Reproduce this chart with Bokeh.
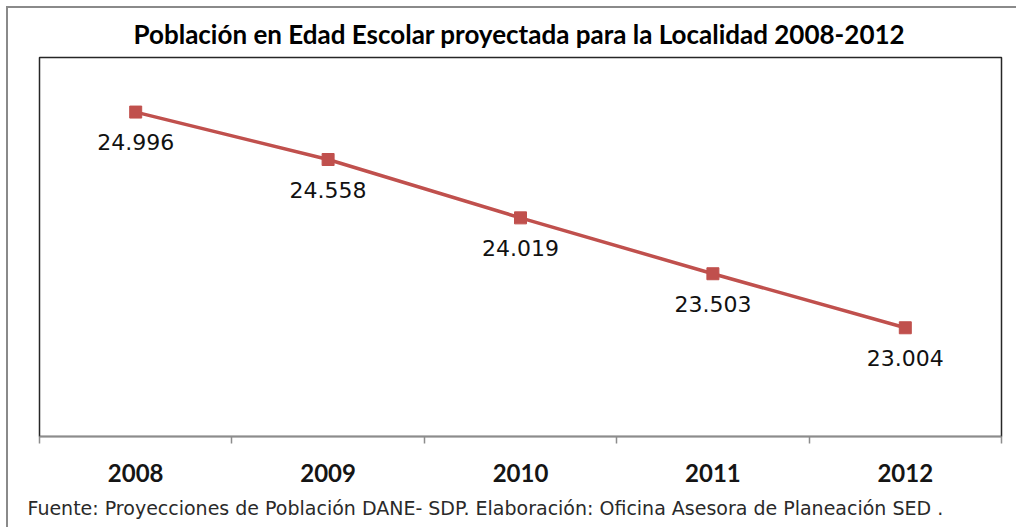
from bokeh.plotting import figure
from bokeh.models import Title, FixedTicker, ColumnDataSource, Range1d
from bokeh.embed import file_html
from bokeh.resources import INLINE
from bokeh.core.properties import value

years = ["2008", "2009", "2010", "2011", "2012"]
population = [24996, 24558, 24019, 23503, 23004]
value_labels = ["24.996", "24.558", "24.019", "23.503", "23.004"]
title_text = "Población en Edad Escolar proyectada para la Localidad 2008-2012"
source_text = "Fuente: Proyecciones de Población DANE- SDP.  Elaboración: Oficina Asesora de Planeación SED ."

W, H = 1010, 521
RED = "#C0504D"

xs = [i + 0.5 for i in range(len(years))]
src = ColumnDataSource(dict(x=xs, y=population, lab=value_labels))

p = figure(width=W, height=H, output_backend="svg", toolbar_location=None,
           x_range=Range1d(0, len(years)), y_range=Range1d(22000, 25500),
           min_border_left=31, min_border_right=17, min_border_top=49,
           min_border_bottom=93, background_fill_color="white",
           border_fill_color="white", title=None)
p.styles = {"margin-left": "6px", "margin-top": "6px",
            "border-top": "2px solid #8a8a8a",
            "border-left": "2px solid #8a8a8a"}
p.xgrid.visible = False
p.ygrid.visible = False
p.yaxis.visible = False
p.outline_line_color = "#262626"
p.outline_line_width = 1.5

ax = p.xaxis[0]
ax.ticker = FixedTicker(ticks=xs, minor_ticks=list(range(len(years) + 1)))
ax.major_label_overrides = {x: y for x, y in zip(xs, years)}
ax.major_tick_line_color = None
ax.major_tick_out = 0
ax.major_tick_in = 0
ax.minor_tick_out = 7
ax.minor_tick_in = 0
ax.minor_tick_line_color = "#8c8c8c"
ax.minor_tick_line_width = 1.5
ax.axis_line_color = "#8c8c8c"
ax.axis_line_width = 1.5
ax.major_label_standoff = 20
ax.major_label_text_font = "Lato"
ax.major_label_text_font_style = "bold"
ax.major_label_text_font_size = "24px"
ax.major_label_text_color = "#151515"

p.line("x", "y", source=src, line_color=RED, line_width=3.5)
p.scatter("x", "y", source=src, marker="square", size=12, fill_color=RED,
          line_color=RED)
p.text("x", "y", text="lab", source=src, text_align="center",
       text_baseline="middle", y_offset=30, text_font=value("DejaVu Sans"),
       text_font_size="22px", text_color="#111111")

p.add_layout(Title(text=title_text, align="left", offset=94, standoff=15,
                   text_font="Lato", text_font_style="bold",
                   text_font_size="26px", text_color="#000000"), "above")
p.add_layout(Title(text=source_text, align="left", offset=-12, standoff=21,
                   text_font="DejaVu Sans", text_font_style="normal",
                   text_font_size="19px", text_color="#2a2a2a"), "below")

open("out.html", "w").write(file_html(p, INLINE))
